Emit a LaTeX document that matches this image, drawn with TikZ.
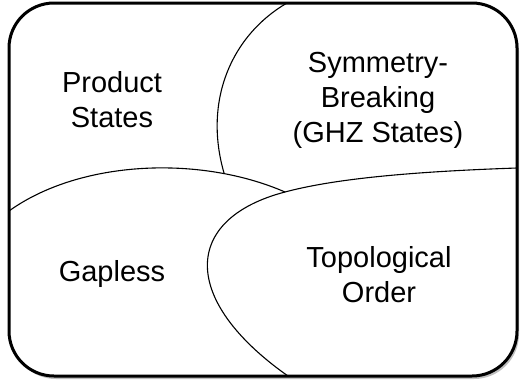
\documentclass[tikz,border=0pt]{standalone}
\usepackage{fontspec}
\setmainfont{Liberation Sans}
\begin{document}
\begin{tikzpicture}[x=1pt,y=-1pt,
  region/.style={line width=1.1pt},
  label/.style={align=center,font=\fontsize{29}{35}\selectfont,inner sep=0pt}]
\useasboundingbox (0,0) rectangle (521,388);
% shadow
\fill[black!25,rounded corners=45pt] (11,6) rectangle (519,379);
\fill[white,rounded corners=45pt] (9,3) rectangle (517,376);
\draw[line width=3pt,rounded corners=45pt] (9,3) rectangle (517,376);
\coordinate (a0) at (287,3);
\coordinate (a1) at (224,173);
\coordinate (b0) at (9,211);
\coordinate (j) at (285,192);
\coordinate (c0) at (517,168);
\coordinate (c1) at (288,376);
\draw[region] (a0) .. controls (232,35) and (203,100) .. (a1);
\draw[region] (b0) .. controls (80,160) and (200,155) .. (j);
\draw[region] (c0) .. controls (400,172) and (330,180) .. (j)
  .. controls (182,219) and (180,300) .. (c1);
\node[label] (ps) at (112,100) {Product\\States};
\node[label] (sb) at (378,100) {Symmetry-\\Breaking\\(GHZ States)};
\node[label] (gp) at (112,274) {Gapless};
\node[label] (to) at (379,275) {Topological\\Order};
\end{tikzpicture}
\end{document}
